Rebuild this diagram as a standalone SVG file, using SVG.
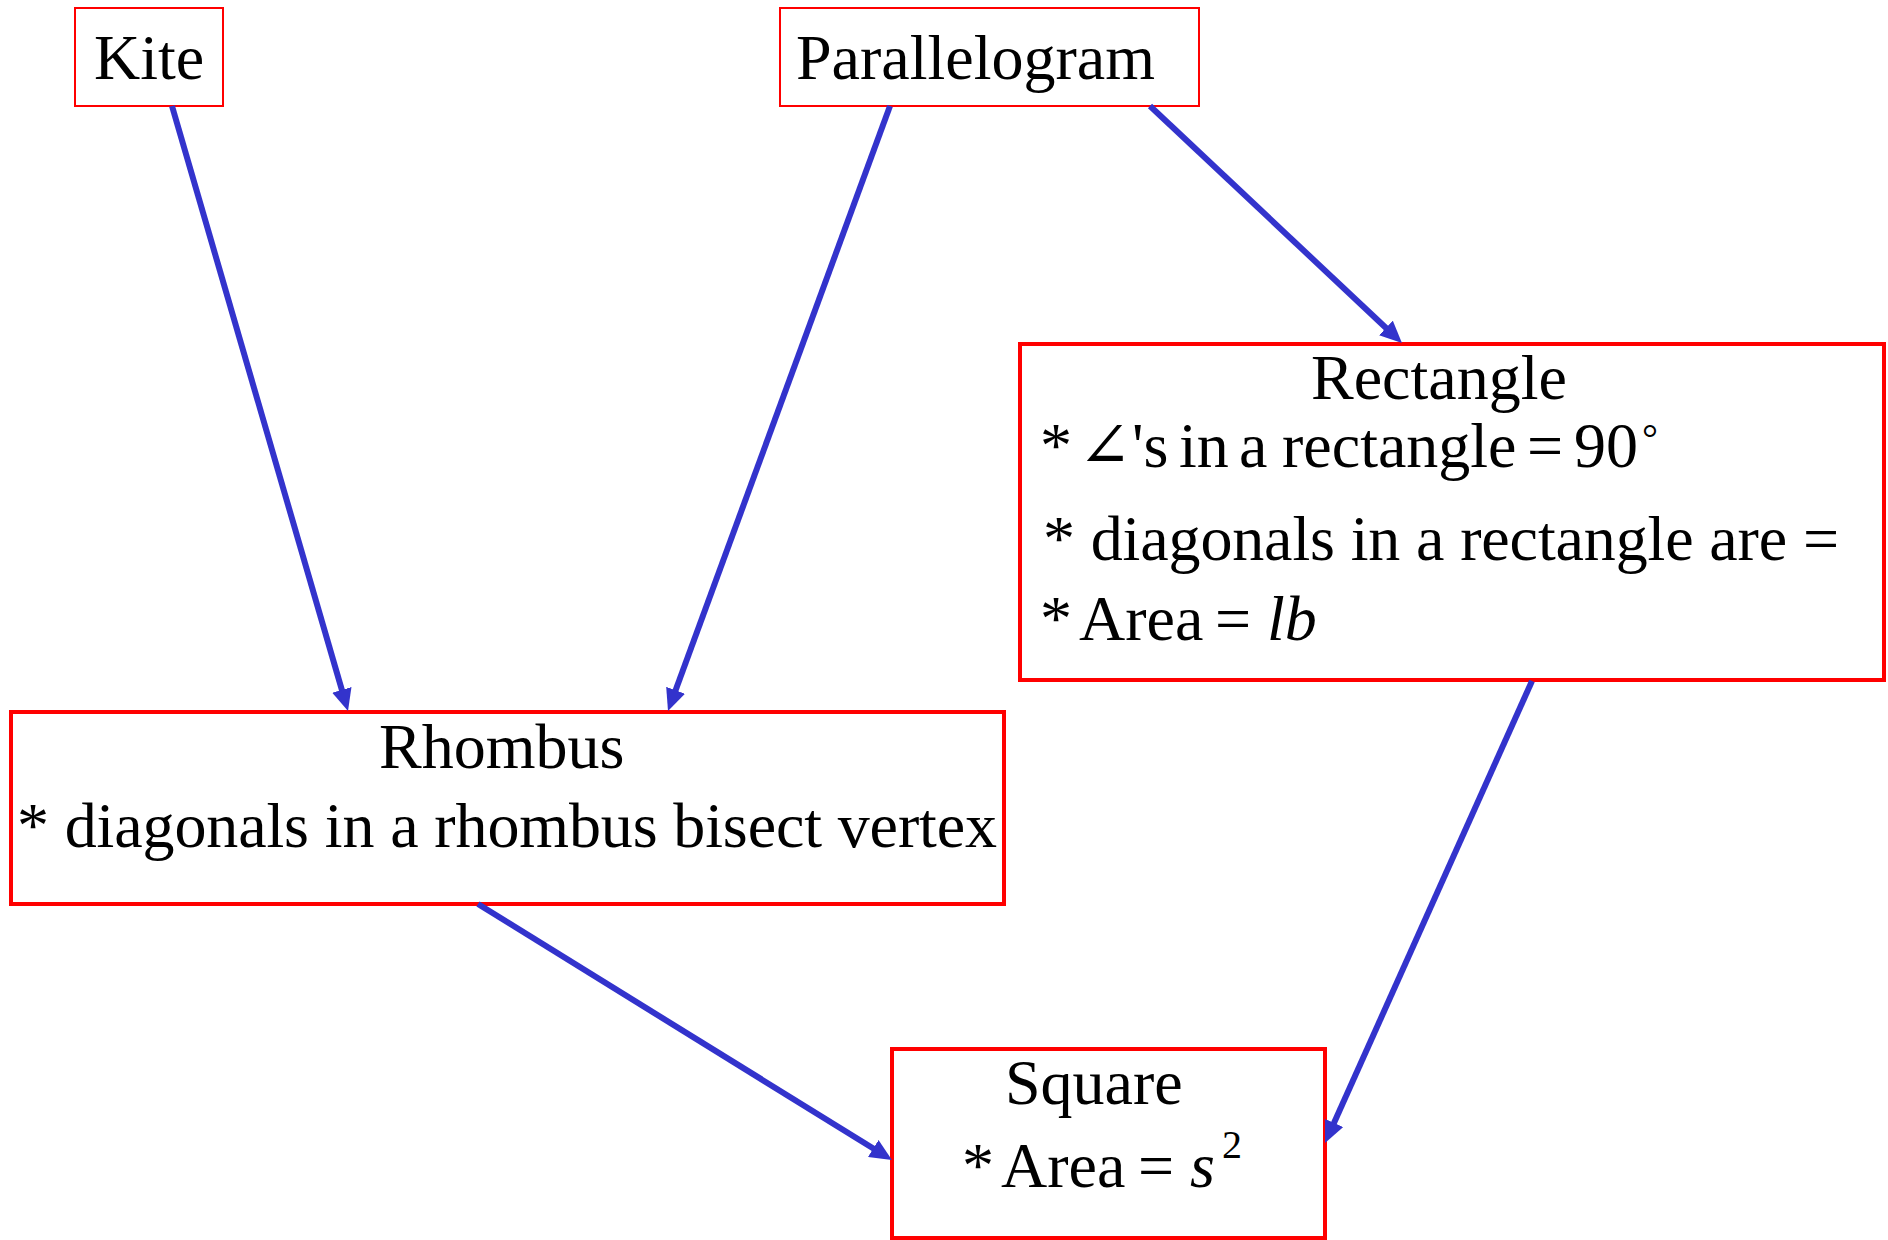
<svg xmlns="http://www.w3.org/2000/svg" width="1888" height="1240" viewBox="0 0 1888 1240">
<style>
.box{fill:#fff;stroke:#ff0000;stroke-width:4}
.thin{stroke-width:2}
.t{font-family:"Liberation Serif","Times New Roman",serif;font-size:64px;fill:#000}
.it{font-style:italic}
.sm{font-size:40px}
.ang{font-family:"DejaVu Serif","Liberation Serif",serif;font-weight:normal}
.con{stroke:#3333cc;stroke-width:6;fill:none;marker-end:url(#ah)}
</style>
<defs>
<marker id="ah" viewBox="0 0 22 20" refX="13" refY="10" markerWidth="22" markerHeight="20" markerUnits="userSpaceOnUse" orient="auto">
<path d="M0,0 L22,10 L0,20 z" fill="#3333cc"/>
</marker>
</defs>
<rect width="1888" height="1240" fill="#fff"/>
<g id="kite">
<rect class="box thin" x="75" y="8" width="148" height="98"/>
<text class="t" x="94" y="79">Kite</text>
</g>
<g id="parallelogram">
<rect class="box thin" x="780" y="8" width="419" height="98"/>
<text class="t" x="796" y="79">Parallelogram</text>
</g>
<g id="rectangle">
<rect class="box" x="1020" y="344" width="864" height="336"/>
<text class="t" x="1311" y="399">Rectangle</text>
<text class="t" y="467"><tspan x="1040">*</tspan><tspan class="ang" x="1078">∠</tspan><tspan x="1132">'s</tspan><tspan x="1179">in</tspan><tspan x="1239">a</tspan><tspan x="1282">rectangle</tspan><tspan x="1527">=</tspan><tspan x="1574">90</tspan><tspan class="sm" x="1642" y="452">°</tspan></text>
<text class="t" x="1043" y="560" textLength="796" lengthAdjust="spacing">* diagonals in a rectangle are =</text>
<text class="t" y="640"><tspan x="1040">*</tspan><tspan x="1079">Area</tspan><tspan x="1215">=</tspan><tspan class="it" x="1267">lb</tspan></text>
</g>
<g id="rhombus">
<rect class="box" x="11" y="712" width="993" height="192"/>
<text class="t" x="379" y="768">Rhombus</text>
<text class="t" x="17" y="847" textLength="980" lengthAdjust="spacing">* diagonals in a rhombus bisect vertex</text>
</g>
<g id="square">
<rect class="box" x="892" y="1049" width="433" height="189"/>
<text class="t" x="1005" y="1104">Square</text>
<text class="t" y="1187"><tspan x="962">*</tspan><tspan x="1001">Area</tspan><tspan x="1138">=</tspan><tspan class="it" x="1190">s</tspan><tspan class="sm" x="1222" y="1158">2</tspan></text>
</g>
<g id="connectors">
<line class="con" x1="172" y1="106" x2="345.5" y2="702.4"/>
<line class="con" x1="890" y1="106" x2="671.1" y2="702.5"/>
<line class="con" x1="1150" y1="106" x2="1395.4" y2="336.8"/>
<line class="con" x1="1532" y1="681" x2="1328.7" y2="1134.8"/>
<line class="con" x1="478" y1="904" x2="884.3" y2="1155.3"/>
</g>
</svg>
